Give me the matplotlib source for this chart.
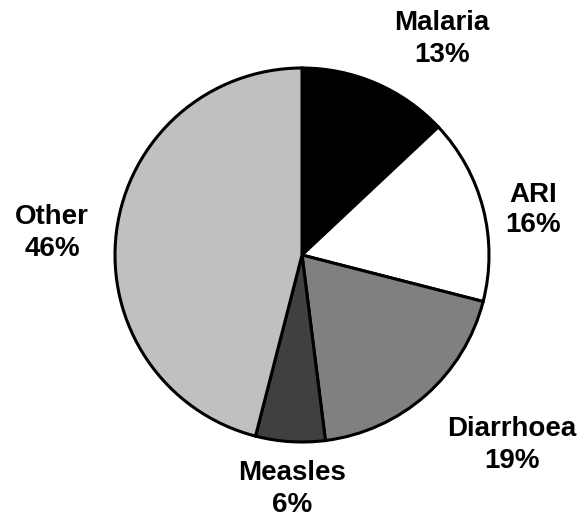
import matplotlib
matplotlib.use("Agg")
import matplotlib.pyplot as plt

categories = ["Malaria", "ARI", "Diarrhoea", "Measles", "Other"]
values = [13, 16, 19, 6, 46]
colors = ["#000000", "#ffffff", "#808080", "#404040", "#c0c0c0"]
# label centres in pixel coords (x, y from top)
label_pos = [(442, 39), (533, 210), (512, 445), (292, 489), (52, 233)]

W, H = 585, 519
fig = plt.figure(figsize=(W / 100, H / 100), dpi=100)
ax = fig.add_axes([0, 0, 1, 1])
ax.set_xlim(0, W)
ax.set_ylim(0, H)
ax.set_aspect("equal")
ax.axis("off")

ax.pie(values, colors=colors, startangle=90, counterclock=False,
       center=(302, H - 255), radius=187,
       wedgeprops=dict(edgecolor="black", linewidth=2.2))
ax.set_xlim(0, W)
ax.set_ylim(0, H)

for cat, v, (x, y) in zip(categories, values, label_pos):
    ax.text(x, H - y, f"{cat}\n{v}%", ha="center", va="center",
            fontsize=20, fontweight="bold", family="Liberation Sans",
            linespacing=1.25)

fig.savefig("out.png", dpi=100)
